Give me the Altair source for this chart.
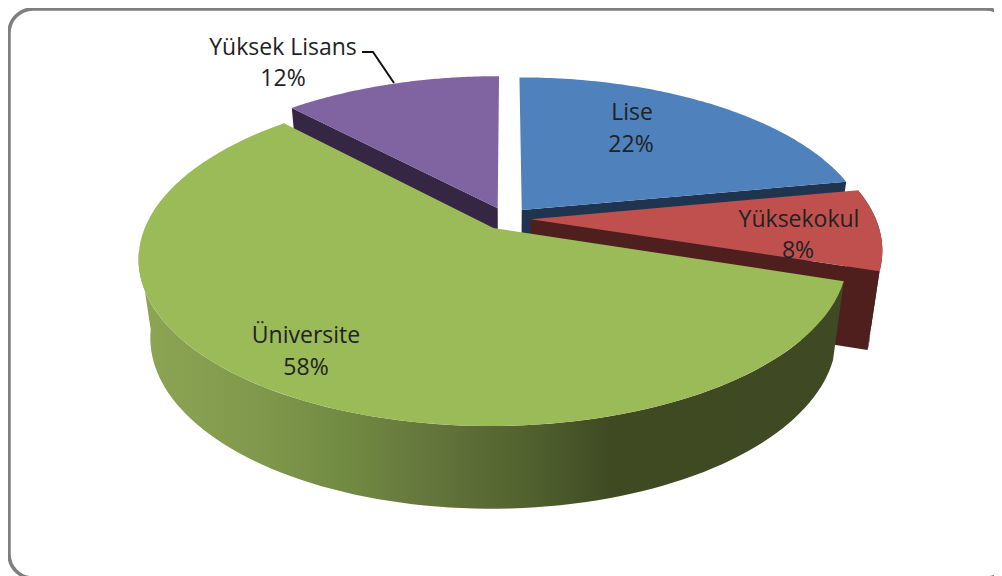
import numpy as np
import pandas as pd
import altair as alt

categories = ["Lise", "Yüksekokul", "Üniversite", "Yüksek Lisans"]
shares = [22, 8, 58, 12]
top_colors = ["#4f81bd", "#c0504d", "#9bbb59", "#8064a2"]
side_colors = ["#1f344f", "#4f1f1d", "#3f4a24", "#352744"]

# View geometry
CX, CY, A, B, K, EXPLODE = 506.5, 218.5, 345.0, 159.0, 0.178, 0.07
SX, DY, DYK = 0.968, 77.5, 0.025
X_DOM, Y_DOM = [8, 994], [576, 8]
W, H = 986, 568


def top_point(px, py):
    w = 1 + K * py
    return CX + A * px / w, CY - B * py / w


def drop(p):
    return CX + SX * (p[0] - CX), p[1] + DY + DYK * (p[1] - CY)


starts = np.cumsum([0] + shares[:-1]) * 3.6
ends = np.cumsum(shares) * 3.6


def offset(i):
    mid = np.radians((starts[i] + ends[i]) / 2)
    return EXPLODE * np.sin(mid), EXPLODE * np.cos(mid)


def rim(i, t0, t1, n=90):
    ox, oy = offset(i)
    ts = np.radians(np.linspace(t0, t1, n))
    return [top_point(ox + np.sin(t), oy + np.cos(t)) for t in ts]


def apex(i):
    return top_point(*offset(i))


def poly(points, fill):
    df = pd.DataFrame(points, columns=["x", "y"])
    df["o"] = range(len(df))
    return alt.Chart(df).mark_line(
        fill=fill, stroke=None, strokeWidth=0, interpolate="linear", clip=False
    ).encode(
        x=alt.X("x:Q", scale=alt.Scale(domain=X_DOM, nice=False, zero=False), axis=None),
        y=alt.Y("y:Q", scale=alt.Scale(domain=Y_DOM, nice=False, zero=False), axis=None),
        order="o:Q",
    )


def top_face(i):
    pts = [apex(i)] + rim(i, starts[i], ends[i]) + [apex(i)]
    return poly(pts, top_colors[i])


def cut_wall(i, t):
    a = apex(i)
    r = rim(i, t, t, 1)[0]
    return poly([a, r, drop(r), drop(a), a], side_colors[i])


def outer_wall(i, t0, t1, fill):
    r = rim(i, t0, t1)
    pts = r + [drop(p) for p in reversed(r)] + [r[0]]
    return poly(pts, fill)


green_grad = alt.Gradient(
    gradient="linear", x1=0, x2=1, y1=0, y2=0,
    stops=[
        alt.GradientStop(offset=0.0, color="#8da655"),
        alt.GradientStop(offset=0.17, color="#7f984b"),
        alt.GradientStop(offset=0.30, color="#718a42"),
        alt.GradientStop(offset=0.38, color="#687b3e"),
        alt.GradientStop(offset=0.55, color="#51622f"),
        alt.GradientStop(offset=0.67, color="#3f4a22"),
        alt.GradientStop(offset=1.0, color="#3f4a24"),
    ],
)

frame_df = pd.DataFrame({"x": [9.0], "x2": [1010.0], "y": [9.0], "y2": [578.0]})
frame = alt.Chart(frame_df).mark_rect(
    fill="#ffffff", stroke="#7f7f7f", strokeWidth=3.5, cornerRadius=24
).encode(
    x=alt.X("x:Q", scale=alt.Scale(domain=X_DOM, nice=False, zero=False), axis=None),
    x2="x2:Q",
    y=alt.Y("y:Q", scale=alt.Scale(domain=Y_DOM, nice=False, zero=False), axis=None),
    y2="y2:Q",
)

layers = [
    frame,
    cut_wall(0, ends[0]),
    top_face(0),
    cut_wall(3, starts[3]),
    top_face(3),
    cut_wall(1, ends[1]),
    outer_wall(1, starts[1], ends[1], side_colors[1]),
    top_face(1),
    outer_wall(2, starts[2], 262, green_grad),
    top_face(2),
]

leader_df = pd.DataFrame({"x": [362, 373, 394], "y": [52, 52, 83], "o": [0, 1, 2]})
leader = alt.Chart(leader_df).mark_line(color="#111111", strokeWidth=2).encode(
    x=alt.X("x:Q", scale=alt.Scale(domain=X_DOM, nice=False, zero=False), axis=None),
    y=alt.Y("y:Q", scale=alt.Scale(domain=Y_DOM, nice=False, zero=False), axis=None),
    order="o:Q",
)
layers.append(leader)

label_pos = {
    "Lise": (632, 113, 631, 145),
    "Yüksekokul": (799, 220, 798, 251),
    "Üniversite": (306, 336, 306, 368),
    "Yüksek Lisans": (283, 48, 283, 79),
}
rows = []
for c, s in zip(categories, shares):
    x1, y1, x2, y2 = label_pos[c]
    rows.append({"x": x1, "y": y1, "t": c})
    rows.append({"x": x2, "y": y2, "t": f"{s}%"})
labels = alt.Chart(pd.DataFrame(rows)).mark_text(
    font="Open Sans", fontSize=23, color="#222222", align="center", baseline="middle"
).encode(
    x=alt.X("x:Q", scale=alt.Scale(domain=X_DOM, nice=False, zero=False), axis=None),
    y=alt.Y("y:Q", scale=alt.Scale(domain=Y_DOM, nice=False, zero=False), axis=None),
    text="t:N",
)
layers.append(labels)

chart = alt.layer(*layers).properties(
    width=W, height=H, padding=0, background="#ffffff",
    autosize=alt.AutoSizeParams(type="none"),
).configure_view(stroke=None)

chart.save("out.html", embed_options={"renderer": "svg", "actions": False})
